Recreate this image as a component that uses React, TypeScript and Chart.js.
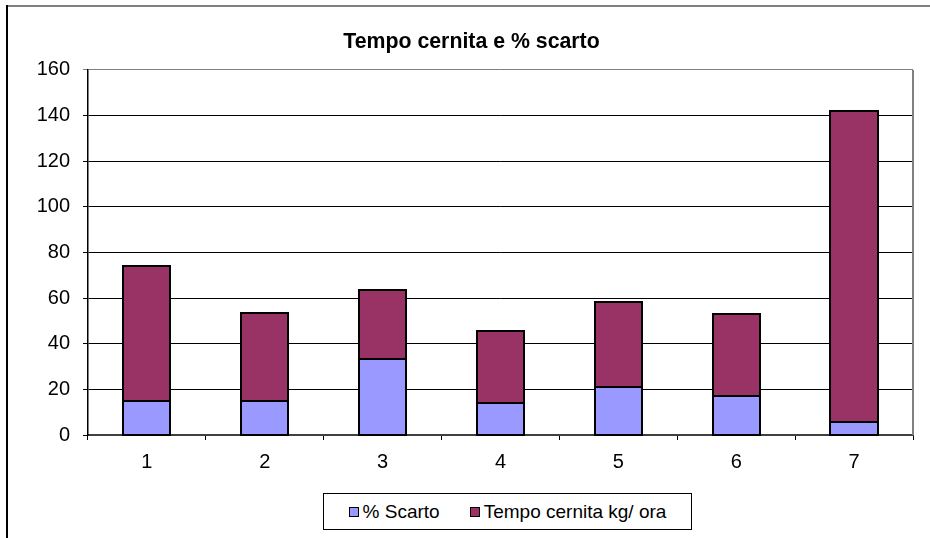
import React, { useEffect, useRef } from "react";
import { Chart, registerables } from "chart.js";

Chart.register(...registerables);

const chartTitle = "Tempo cernita e % scarto";
const categories = ["1", "2", "3", "4", "5", "6", "7"];
const seriesNames = ["% Scarto", "Tempo cernita kg/ ora"];
const scarto = [15, 15, 33.2, 14.2, 21.2, 17.1, 5.8];
const tempo = [59.1, 38.6, 30.4, 31.5, 37, 36.1, 136.3];
const seriesColors = ["#9999FF", "#993366"];
const yMin = 0;
const yMax = 160;
const yStep = 20;

const FONT = "'Liberation Sans', Arial, sans-serif";

const framePlugin = {
  id: "frame",
  beforeDraw(chart: any) {
    const { ctx, width, height } = chart;
    ctx.save();
    ctx.fillStyle = "#ffffff";
    ctx.fillRect(0, 0, width, height);
    ctx.strokeStyle = "#808080";
    ctx.lineWidth = 2;
    ctx.beginPath();
    ctx.moveTo(7, 6);
    ctx.lineTo(width, 6);
    ctx.stroke();
    ctx.strokeStyle = "#000000";
    ctx.lineWidth = 2;
    ctx.beginPath();
    ctx.moveTo(7, 5);
    ctx.lineTo(7, height);
    ctx.stroke();
    ctx.restore();
  },
  beforeDatasetsDraw(chart: any) {
    const { ctx, chartArea } = chart;
    ctx.save();
    ctx.strokeStyle = "#808080";
    ctx.lineWidth = 2;
    ctx.beginPath();
    ctx.moveTo(chartArea.right, chartArea.top);
    ctx.lineTo(chartArea.right, chartArea.bottom);
    ctx.stroke();
    ctx.restore();
  },
  afterDatasetsDraw(chart: any) {
    const { ctx } = chart;
    ctx.save();
    ctx.strokeStyle = "#000000";
    ctx.lineWidth = 2;
    chart.data.datasets.forEach((_: any, di: number) => {
      const meta = chart.getDatasetMeta(di);
      meta.data.forEach((bar: any) => {
        const p = bar.getProps(["x", "y", "base", "width"], true);
        const l = Math.round(p.x - p.width / 2);
        const r = Math.round(p.x + p.width / 2);
        const t = Math.round(Math.min(p.y, p.base));
        const b = Math.round(Math.max(p.y, p.base));
        ctx.strokeRect(l, t, r - l, b - t);
      });
    });
    ctx.restore();
  },
};

export default function App() {
  const canvasRef = useRef<HTMLCanvasElement | null>(null);

  useEffect(() => {
    const canvas = canvasRef.current;
    if (!canvas) return;
    const chart = new Chart(canvas, {
      type: "bar",
      data: {
        labels: categories,
        datasets: [
          {
            label: seriesNames[0],
            data: scarto,
            backgroundColor: seriesColors[0],
            borderWidth: 0,
            inflateAmount: 0,
            categoryPercentage: 1,
            barPercentage: 0.4,
          },
          {
            label: seriesNames[1],
            data: tempo,
            backgroundColor: seriesColors[1],
            borderWidth: 0,
            inflateAmount: 0,
            categoryPercentage: 1,
            barPercentage: 0.4,
          },
        ],
      },
      options: {
        responsive: false,
        animation: false,
        devicePixelRatio: 1,
        layout: { padding: { left: 30, right: 17, top: 0, bottom: 63 } },
        plugins: {
          legend: { display: false },
          tooltip: { enabled: false },
          title: {
            display: true,
            text: chartTitle,
            color: "#000000",
            font: { family: FONT, size: 21.3, weight: "bold" },
            padding: { top: 29.2, bottom: 15.2 },
          },
        },
        scales: {
          x: {
            stacked: true,
            afterFit(scale: any) {
              scale.height = 40;
            },
            grid: {
              display: true,
              drawOnChartArea: false,
              drawTicks: true,
              tickLength: 5,
              color: "#000000",
              lineWidth: 1,
            },
            border: { display: true, color: "#404040", width: 2 },
            ticks: {
              color: "#000000",
              font: { family: FONT, size: 20 },
              padding: 10,
              maxRotation: 0,
            },
          },
          y: {
            stacked: true,
            min: yMin,
            max: yMax,
            afterFit(scale: any) {
              scale.width = 58;
            },
            grid: {
              display: true,
              drawTicks: true,
              tickLength: 5,
              color: (c: any) => (c.tick && c.tick.value === yMax ? "#808080" : "#000000"),
              lineWidth: 1,
            },
            border: { display: true, color: "#000000", width: 1.5 },
            ticks: {
              stepSize: yStep,
              color: "#000000",
              font: { family: FONT, size: 20 },
              padding: 13,
            },
          },
        },
      },
      plugins: [framePlugin],
    });
    return () => chart.destroy();
  }, []);

  const legendText: React.CSSProperties = {
    fontFamily: FONT,
    fontSize: 19,
    color: "#000",
    whiteSpace: "nowrap",
  };
  const swatch = (color: string): React.CSSProperties => ({
    width: 8,
    height: 8,
    background: color,
    border: "1px solid #000",
    marginRight: 4,
    flex: "none",
  });

  return (
    <div style={{ position: "absolute", left: 0, top: 0, width: 930, height: 538 }}>
      <canvas ref={canvasRef} width={930} height={538} style={{ display: "block" }} />
      <div
        style={{
          position: "absolute",
          left: 323,
          top: 493,
          width: 367,
          height: 35,
          border: "1px solid #000",
          background: "#fff",
          display: "flex",
          alignItems: "center",
          justifyContent: "center",
        }}
      >
        <div style={{ display: "flex", alignItems: "center", marginRight: 30 }}>
          <div style={swatch(seriesColors[0])} />
          <span style={legendText}>{seriesNames[0]}</span>
        </div>
        <div style={{ display: "flex", alignItems: "center" }}>
          <div style={swatch(seriesColors[1])} />
          <span style={legendText}>{seriesNames[1]}</span>
        </div>
      </div>
    </div>
  );
}
